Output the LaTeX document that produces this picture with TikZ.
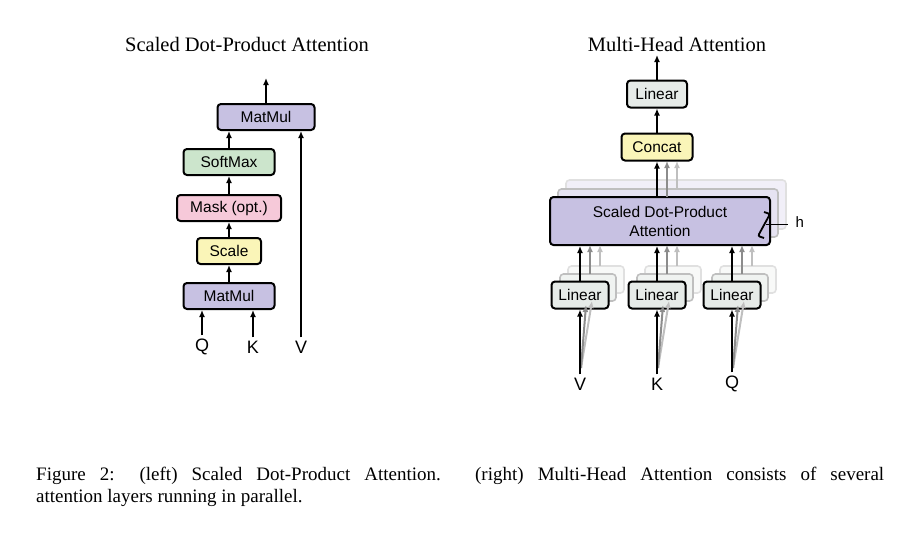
\documentclass[tikz,border=0pt]{standalone}
\usepackage{fontspec}
\setmainfont{Liberation Serif}
\newfontfamily\mysf{Liberation Sans}
\usetikzlibrary{arrows.meta}
\definecolor{cpur}{RGB}{199,193,226}
\definecolor{cgrn}{RGB}{204,229,204}
\definecolor{cpnk}{RGB}{246,201,217}
\definecolor{cyel}{RGB}{250,245,184}
\definecolor{cgry}{RGB}{230,235,232}
\begin{document}
\begin{tikzpicture}[x=1pt,y=-1pt,
 box/.style={draw=black,line width=2pt,rounded corners=3.5pt,inner sep=0pt,font=\mysf\fontsize{15.5}{19}\selectfont,align=center},
 ghost/.style={draw=black!25,line width=1.6pt,rounded corners=3.5pt,fill=cgry!50},
 arr/.style={-{Latex[length=7pt,width=6pt]},line width=2pt},
 lbl/.style={font=\mysf\fontsize{18}{20}\selectfont},
 ttl/.style={font=\fontsize{20.5}{22}\selectfont}]
\useasboundingbox (0,0) rectangle (924,538);
% left
\node[ttl] (t1) at (247,44) {Scaled Dot-Product Attention};
\node[box,fill=cpur,minimum width=97pt,minimum height=26pt] (mm2) at (266,117) {MatMul};
\node[box,fill=cgrn,minimum width=91pt,minimum height=26pt] (sm) at (229,162) {SoftMax};
\node[box,fill=cpnk,minimum width=104pt,minimum height=26pt] (mk) at (229,208) {Mask (opt.)};
\node[box,fill=cyel,minimum width=64pt,minimum height=26pt] (sc) at (229,251) {Scale};
\node[box,fill=cpur,minimum width=91pt,minimum height=26pt] (mm1) at (229,296) {MatMul};
\node[lbl] (q1) at (202,347) {Q};
\node[lbl] (k1) at (253,347) {K};
\node[lbl] (v1) at (301,347) {V};
\coordinate (o1) at (266,78);
\draw[arr] (mm2.north) -- (o1);
\draw[arr] (sm.north) -- (sm.north |- mm2.south);
\draw[arr] (mk) -- (sm);
\draw[arr] (sc) -- (mk);
\draw[arr] (mm1) -- (sc);
\draw[arr] (q1.north) -- (q1.north |- mm1.south);
\draw[arr] (k1.north) -- (k1.north |- mm1.south);
\draw[arr] (v1.north) -- (v1.north |- mm2.south);
% right
\node[ttl] (t2) at (677,44) {Multi-Head Attention};
\node[box,fill=cgry,minimum width=60pt,minimum height=27pt] (lt) at (657,94) {Linear};
\node[box,fill=cyel,minimum width=71pt,minimum height=27pt] (cc) at (657,147) {Concat};
% ghosts for SDPA
\draw[ghost,draw=black!12,fill=cpur!25] (566,180) rectangle (786,229);
\draw[ghost,draw=black!25,fill=cpur!45] (558,189) rectangle (778,237);
\node[box,fill=cpur,minimum width=220pt,minimum height=48pt] (sd) at (660,221) {Scaled Dot-Product\\Attention};
% h bracket
\draw[line width=1.8pt,rounded corners=2pt] (764,212) -- (770,214) -- (758,236) -- (764,238);
\draw[line width=1pt] (766,224) -- (788,224);
\node[lbl,anchor=west,font=\mysf\fontsize{15}{16}\selectfont] (h) at (792,222) {h};
% gray arrows to concat
\draw[arr,black!45] (667,197) -- (667,161);
\draw[arr,black!25] (677,189) -- (677,161);
\draw[arr] (sd.north -| cc.south) -- (cc.south);
\draw[arr] (cc) -- (lt);
\coordinate (o2) at (657,55);
\draw[arr] (lt.north) -- (o2);
% linear boxes
\foreach \n/\x/\l in {lv/580/V,lk/657/K,lq/732/Q}{
 \draw[ghost,draw=black!12,fill=cgry!30] (\x-28+16,282-16) rectangle (\x+28+16,309-16);
 \draw[ghost,draw=black!25,fill=cgry!60] (\x-28+8,282-8) rectangle (\x+28+8,309-8);
 \draw[arr,black!25] (\x+20,266) -- (\x+20,245);
 \draw[arr,black!45] (\x+10,274) -- (\x+10,245);
 \node[box,fill=cgry,minimum width=57pt,minimum height=27pt] (\n) at (\x,295) {Linear};
 \node[lbl] (\n i) at (\x,384) {\l};
 \draw[arr,black!25] (\x+1,368) -- (\x+12,301);
 \draw[arr,black!45] (\x+1,368) -- (\x+6,305);
 \draw[arr] (\n i.north) -- (\n.south);
 \draw[arr] (\n.north) -- (\n.north |- sd.south);
}
% caption
\node[anchor=north west,inner sep=0pt,text width=848pt,align=justify,font=\fontsize{19}{22}\selectfont] (cap) at (36,467)
 {Figure 2: (left) Scaled Dot-Product Attention. (right) Multi-Head Attention consists of several\linebreak attention layers running in parallel.};
\end{tikzpicture}
\end{document}
